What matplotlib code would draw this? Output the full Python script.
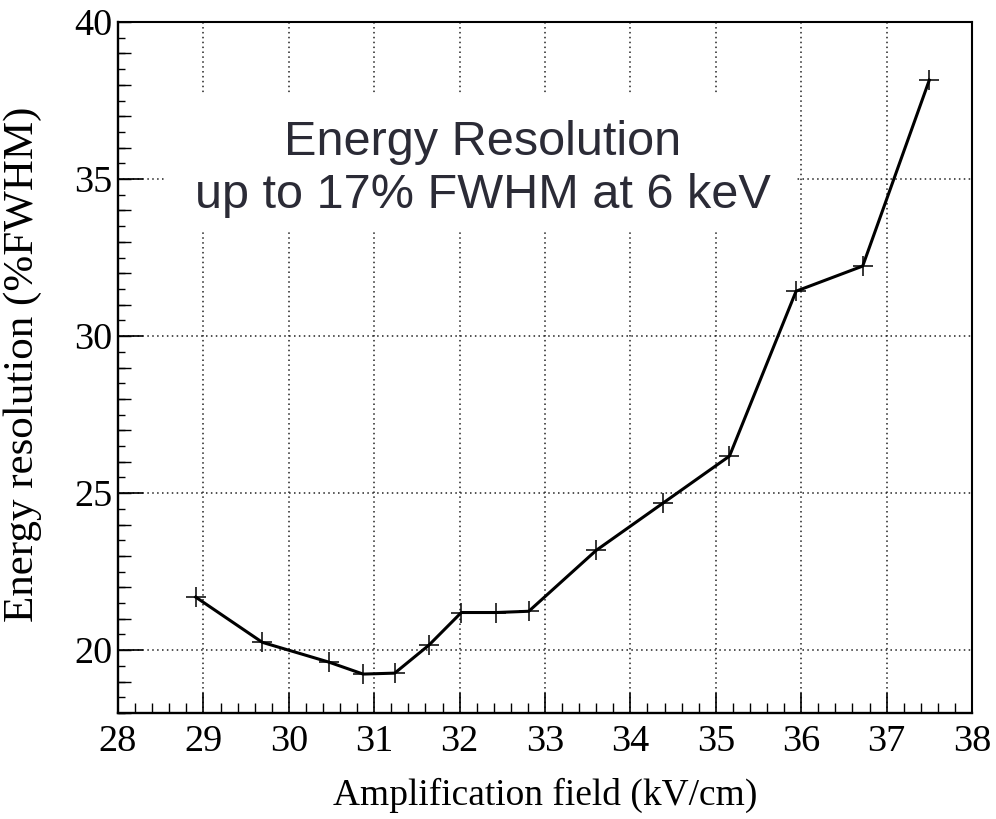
import matplotlib.pyplot as plt
from matplotlib.patches import Rectangle
from matplotlib.ticker import MultipleLocator, FuncFormatter

# amplification field (kV/cm) and energy resolution (% FWHM)
field = [28.91, 29.69, 30.47, 30.87, 31.24, 31.64, 32.02, 32.43, 32.81,
         33.60, 34.38, 35.16, 35.94, 36.72, 37.50]
resolution = [21.69, 20.25, 19.62, 19.24, 19.27, 20.16, 21.20, 21.20, 21.24,
              23.18, 24.68, 26.18, 31.43, 32.23, 38.15]

x_label = "Amplification field (kV/cm)"
y_label = "Energy resolution (%FWHM)"
note = "Energy Resolution\nup to 17% FWHM at 6 keV"

SERIF = ["Liberation Serif", "DejaVu Serif"]
SANS = ["Liberation Sans", "DejaVu Sans"]


def main() -> None:
    fig = plt.figure(figsize=(9.96, 8.19), dpi=100)
    ax = fig.add_axes([0.1185, 0.1294, 0.8574, 0.8437])

    ax.set_xlim(28, 38)
    ax.set_ylim(18, 40)

    # ROOT-like frame and ticks
    for side in ("top", "right"):
        ax.spines[side].set_linewidth(1.5)
    for side in ("left", "bottom"):
        ax.spines[side].set_linewidth(1.7)

    ax.xaxis.set_major_locator(MultipleLocator(1))
    ax.xaxis.set_minor_locator(MultipleLocator(0.2))
    ax.yaxis.set_major_locator(MultipleLocator(5))
    ax.yaxis.set_minor_locator(MultipleLocator(0.5))
    ax.yaxis.set_major_formatter(FuncFormatter(lambda v, _: f"{v:.0f}"))

    ax.tick_params(axis="x", which="major", direction="in", length=14.4, width=1.2, pad=8)
    ax.tick_params(axis="x", which="minor", direction="in", length=7.2, width=1.0)
    ax.tick_params(axis="y", which="major", direction="in", length=18, width=1.2, pad=4)
    ax.tick_params(axis="y", which="minor", direction="in", length=5, width=1.0)
    ax.tick_params(top=False, right=False, which="both")

    sec = ax.secondary_yaxis("left")
    sec.yaxis.set_major_locator(MultipleLocator(1))
    sec.yaxis.set_major_formatter(FuncFormatter(lambda v, _: ""))
    sec.tick_params(direction="in", length=9.4, width=1.0)
    sec.spines["left"].set_visible(False)

    for lbl in ax.get_xticklabels() + ax.get_yticklabels():
        lbl.set_fontfamily(SERIF)
        lbl.set_fontsize(27.5)

    # dotted grid
    dots = dict(color="#222222", linewidth=1.1, linestyle=(0, (1, 2.2)), zorder=0.5)
    for gx in range(29, 38):
        ax.axvline(gx, **dots)
    for gy in (20, 25, 30, 35):
        ax.axhline(gy, **dots)

    # white panel behind the annotation
    ax.add_patch(Rectangle((0.055, 0.696), 0.74, 0.198, transform=ax.transAxes,
                           facecolor="white", edgecolor="none", zorder=1))

    ax.plot(field, resolution, color="black", linewidth=2.2,
            marker="+", markersize=15, markeredgewidth=1.1, zorder=3)

    ax.text(0.427, 0.787, note, transform=ax.transAxes, ha="center", va="center",
            fontsize=35, family=SANS, color="#2b2b36", linespacing=1.22, zorder=4)

    ax.set_xlabel(x_label, fontsize=27, family=SERIF)
    ax.set_ylabel(y_label, fontsize=31, family=SERIF)
    ax.xaxis.set_label_coords(0.5, -0.094)
    ax.yaxis.set_label_coords(-0.089, 0.505)

    fig.savefig("out.png", dpi=100)


if __name__ == "__main__":
    main()
